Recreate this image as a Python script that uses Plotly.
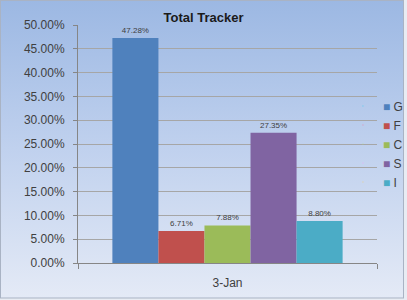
import base64
import plotly.graph_objects as go

# ---- data ----
categories = ["3-Jan"]
series = ["G", "F", "C", "S", "I"]
values_G = [0.4728]
values_F = [0.0671]
values_C = [0.0788]
values_S = [0.2735]
values_I = [0.0880]
y_ticks = [0.0, 0.05, 0.10, 0.15, 0.20, 0.25, 0.30, 0.35, 0.40, 0.45, 0.50]
title_text = "Total Tracker"

values = [values_G, values_F, values_C, values_S, values_I]
colors = ["#4f81bd", "#c0504d", "#9bbb59", "#8064a2", "#4bacc6"]

W, H = 407, 300
ML, MR, MT, MB = 78, 30, 25, 37
PW, PH = W - ML - MR, H - MT - MB

FONT = "Liberation Sans, Arial, sans-serif"

fig = go.Figure()
for name, vals, col in zip(series, values, colors):
    fig.add_trace(go.Bar(
        x=categories, y=vals, name=name, marker=dict(color=col, line=dict(width=0)),
        text=[f"{v*100:.2f}%" for v in vals], textposition="outside",
        textfont=dict(size=8, color="#404040", family=FONT),
        cliponaxis=False, showlegend=False,
    ))
# legend entries (no data), glyph squares like the original's small keys
for name, col in zip(series, colors):
    fig.add_trace(go.Scatter(
        x=[None], y=[None], mode="markers", marker=dict(size=1, opacity=0),
        name=f'<span style="color:{col}">■</span> {name}', showlegend=True,
    ))

svg = f'''<svg xmlns="http://www.w3.org/2000/svg" width="{W}" height="{H}" viewBox="0 0 {W} {H}">
<defs><linearGradient id="g" x1="0" y1="0" x2="0" y2="1">
<stop offset="0" stop-color="#9cb8e3"/><stop offset="0.5" stop-color="#c0d1ee"/><stop offset="1" stop-color="#e4eaf6"/>
</linearGradient></defs>
<rect x="0" y="0" width="{W}" height="{H}" fill="#e8ecf3"/>
<rect x="0.5" y="0.5" width="403" height="297.5" fill="url(#g)" stroke="#a9b3c4" stroke-width="1"/>
</svg>'''
src = "data:image/svg+xml;base64," + base64.b64encode(svg.encode()).decode()

fig.update_layout(
    width=W, height=H,
    margin=dict(l=ML, r=MR, t=MT, b=MB, pad=0, autoexpand=False),
    paper_bgcolor="#c3d3ee", plot_bgcolor="#ffffff",
    barmode="group", bargap=0.23, bargroupgap=0,
    font=dict(family=FONT, color="#404040", size=12),
    title=dict(text=f"<b>{title_text}</b>", x=0.5, xref="container", xanchor="center",
               y=1 - 17 / H, yref="container", yanchor="middle",
               font=dict(size=13, color="#1a1a1a", family=FONT)),
    images=[dict(source=src, xref="paper", yref="paper",
                 x=-ML / PW, y=1 + MT / PH, sizex=W / PW, sizey=H / PH,
                 xanchor="left", yanchor="top", sizing="stretch", layer="below")],
    legend=dict(x=0.886, xanchor="left", y=0.5, yanchor="middle",
                bgcolor="rgba(0,0,0,0)", font=dict(size=12, color="#404040", family=FONT),
                itemclick=False, itemdoubleclick=False, tracegroupgap=0),
    xaxis=dict(showgrid=False, showline=True, linecolor="#868686", linewidth=1,
               ticks="outside", tickson="boundaries", ticklen=5, tickcolor="#868686",
               ticklabelstandoff=9, tickfont=dict(size=12, color="#404040")),
    yaxis=dict(range=[0, 0.5], tickvals=y_ticks, tickformat=".2%",
               showgrid=True, gridcolor="#a6a6a6", gridwidth=1,
               showline=True, linecolor="#868686", linewidth=1,
               ticks="outside", ticklen=4, tickcolor="#868686",
               ticklabelstandoff=6, zeroline=False,
               tickfont=dict(size=12, color="#404040")),
)

fig.write_html("out.html")
